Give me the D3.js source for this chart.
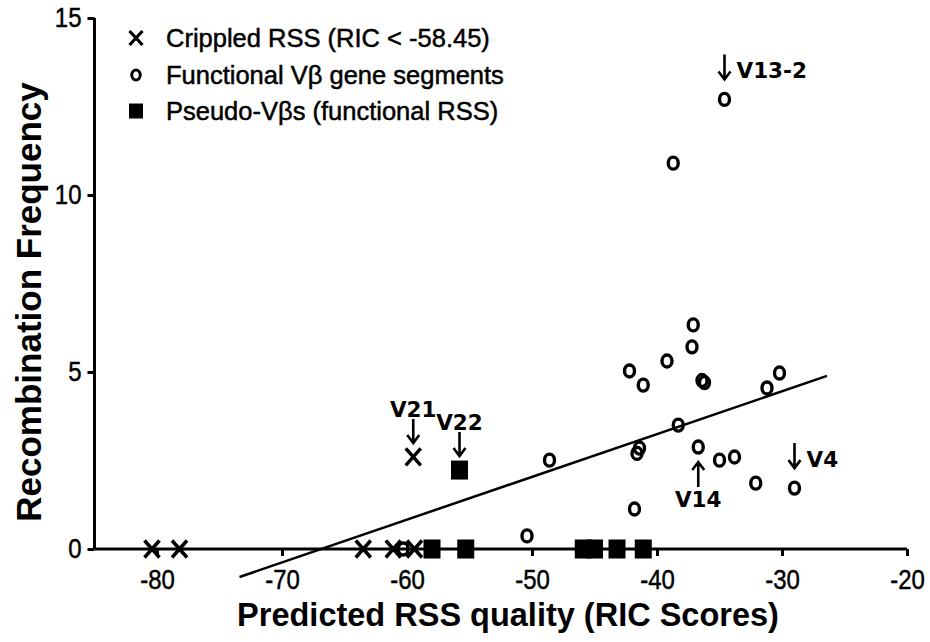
<!DOCTYPE html>
<html>
<head>
<meta charset="utf-8">
<script src="https://cdn.jsdelivr.net/npm/d3@7"></script>
<style>
  body { margin: 0; background: #fff; }
  svg { display: block; }
</style>
</head>
<body>
<svg id="chart" width="930" height="642"></svg>
<script>
// crippled RSS (x marks)
var crippledRic  = [-80.4, -78.2, -63.5, -61.1, -59.4, -59.5];
var crippledFreq = [0, 0, 0, 0, 0, 2.6];

// functional Vb gene segments (open circles)
var functionalRic  = [-60.3, -50.4, -48.6, -42.2, -41.1, -41.4, -41.6, -41.8, -37.1, -37.2, -39.2, -36.4,
                      -36.2, -31.2, -30.2, -38.3, -36.7, -35.0, -33.8, -32.1, -29.0, -34.6, -38.7];
var functionalFreq = [0, 0.37, 2.51, 5.03, 4.63, 2.85, 2.7, 1.13, 6.33, 5.71, 5.31, 4.76,
                      4.7, 4.55, 4.97, 3.5, 2.88, 2.51, 2.6, 1.86, 1.72, 12.7, 10.9];

// pseudo-Vbs (filled squares)
var pseudoRic  = [-58.0, -55.3, -45.9, -45.0, -43.2, -41.1, -55.8];
var pseudoFreq = [0, 0, 0, 0, 0, 0, 2.23];

// regression line end points
var fitRic  = [-73.4, -26.4];
var fitFreq = [-0.79, 4.89];

var xTicks = [-80, -70, -60, -50, -40, -30, -20];
var yTicks = [0, 5, 10, 15];

var legendLabels = ['Crippled RSS (RIC < -58.45)', 'Functional V\u03b2 gene segments', 'Pseudo-V\u03b2s (functional RSS)'];

// labelled genes: name, ric, freq, arrow direction
var noteNames = ['V13-2', 'V21', 'V22', 'V14', 'V4'];
var noteRic   = [-34.6, -59.5, -55.8, -36.7, -29.0];
var noteFreq  = [12.7, 2.6, 2.23, 2.88, 1.72];
var noteDir   = ['downRight', 'down', 'down', 'up', 'downRight'];

var svg = d3.select('#chart');

var x = d3.scaleLinear().domain([-85, -20]).range([94.5, 907]);
var y = d3.scaleLinear().domain([0, 15]).range([549, 18]);

var ink = '#000';
var sans = 'Liberation Sans, Arial, sans-serif';
var stretch = 1.15;

// axes
var xAxis = d3.axisBottom(x).tickValues(xTicks).tickSize(7).tickPadding(8)
  .tickFormat(function (d) { return String(d); });
var gx = svg.append('g').attr('transform', 'translate(0,' + y(0) + ')').call(xAxis);
gx.select('.domain').attr('d', 'M' + x(-85) + ',0H' + x(-20));

var yAxis = d3.axisLeft(y).tickValues(yTicks).tickSize(7).tickPadding(6)
  .tickFormat(function (d) { return String(d); });
var gy = svg.append('g').attr('transform', 'translate(' + x(-85) + ',0)').call(yAxis);
gy.select('.domain').attr('d', 'M0,' + y(0) + 'V' + y(15));

svg.selectAll('.domain, .tick line').attr('stroke', ink).attr('stroke-width', 3);
svg.selectAll('.tick text')
  .attr('fill', ink)
  .attr('stroke', ink).attr('stroke-width', 0.4)
  .attr('transform', 'scale(1,' + stretch + ')')
  .style('font-family', sans)
  .style('font-size', '24px');
gx.selectAll('.tick text').attr('y', 15 / stretch).attr('dy', '0.9em');

// axis titles
svg.append('text')
  .attr('x', 508).attr('y', 626)
  .attr('text-anchor', 'middle')
  .style('font-family', sans)
  .style('font-weight', 'bold').style('font-size', '32.5px')
  .text('Predicted RSS quality (RIC Scores)');

svg.append('text')
  .attr('transform', 'translate(41,302) rotate(-90)')
  .attr('text-anchor', 'middle')
  .style('font-family', sans)
  .style('font-weight', 'bold').style('font-size', '35px')
  .text('Recombination Frequency');

// regression line
svg.append('line')
  .attr('x1', x(fitRic[0])).attr('y1', y(fitFreq[0]))
  .attr('x2', x(fitRic[1])).attr('y2', y(fitFreq[1]))
  .attr('stroke', ink).attr('stroke-width', 2.5);

var crossPath = function (cx, cy, hx, hy) {
  return 'M' + (cx - hx) + ',' + (cy - hy) + 'L' + (cx + hx) + ',' + (cy + hy) +
         'M' + (cx - hx) + ',' + (cy + hy) + 'L' + (cx + hx) + ',' + (cy - hy);
};

// points
svg.append('g').selectAll('path')
  .data(d3.range(crippledRic.length))
  .enter().append('path')
  .attr('d', function (i) { return crossPath(x(crippledRic[i]), y(crippledFreq[i]), 7.5, 8.5); })
  .attr('stroke', ink).attr('stroke-width', 3.5).attr('fill', 'none');

svg.append('g').selectAll('ellipse')
  .data(d3.range(functionalRic.length))
  .enter().append('ellipse')
  .attr('cx', function (i) { return x(functionalRic[i]); })
  .attr('cy', function (i) { return y(functionalFreq[i]); })
  .attr('rx', 5).attr('ry', 6)
  .attr('fill', 'none').attr('stroke', ink).attr('stroke-width', 3.4);

svg.append('g').selectAll('rect')
  .data(d3.range(pseudoRic.length))
  .enter().append('rect')
  .attr('x', function (i) { return x(pseudoRic[i]) - 8.5; })
  .attr('y', function (i) { return y(pseudoFreq[i]) - 9.5; })
  .attr('width', 17).attr('height', 19)
  .attr('fill', ink);

// annotations
var noteFont = 'DejaVu Sans, Verdana, sans-serif';
var arrow = function (ax, tipY, tailY) {
  var s = tipY > tailY ? -1 : 1;
  return 'M' + ax + ',' + tailY + 'V' + tipY +
         'M' + (ax - 6) + ',' + (tipY + s * 8) + 'L' + ax + ',' + tipY + 'L' + (ax + 6) + ',' + (tipY + s * 8);
};
var notes = svg.append('g');
noteNames.forEach(function (name, i) {
  var px = x(noteRic[i]), py = y(noteFreq[i]);
  var d = noteDir[i], tx, ty, anchor, path;
  if (d === 'up') {
    path = arrow(px, py + 15, py + 40);
    tx = px; ty = py + 60; anchor = 'middle';
  } else if (d === 'down') {
    path = arrow(px, py - 14, py - 38);
    tx = px; ty = py - 40; anchor = 'middle';
  } else {
    path = arrow(px, py - 20, py - 45);
    tx = px + 12; ty = py - 21; anchor = 'start';
  }
  notes.append('path').attr('d', path)
    .attr('fill', 'none').attr('stroke', ink).attr('stroke-width', 2.6);
  notes.append('text')
    .attr('x', tx).attr('y', ty).attr('text-anchor', anchor)
    .style('font-family', noteFont).style('font-weight', 'bold').style('font-size', '21.5px')
    .text(name);
});

// legend
var legend = svg.append('g').attr('transform', 'translate(136,0)');
var legendY = [38, 75, 111];
legendLabels.forEach(function (label, i) {
  var ly = legendY[i];
  if (i === 0) {
    legend.append('path').attr('d', crossPath(0, ly, 6.5, 7))
      .attr('stroke', ink).attr('stroke-width', 3.2).attr('fill', 'none');
  } else if (i === 1) {
    legend.append('ellipse').attr('cx', 0).attr('cy', ly).attr('rx', 4.2).attr('ry', 5)
      .attr('fill', 'none').attr('stroke', ink).attr('stroke-width', 3);
  } else {
    legend.append('rect').attr('x', -7).attr('y', ly - 7.5).attr('width', 14).attr('height', 15).attr('fill', ink);
  }
  legend.append('text')
    .attr('x', 30).attr('y', ly + 9)
    .attr('stroke', ink).attr('stroke-width', 0.5)
    .style('font-family', sans)
    .style('font-size', '25.5px')
    .text(label);
});
</script>
</body>
</html>
